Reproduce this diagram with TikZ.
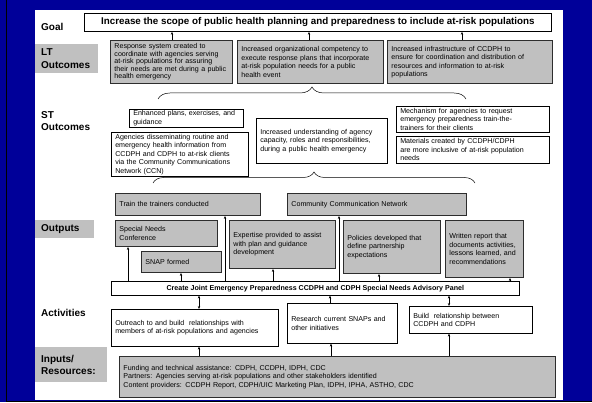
\documentclass[tikz,border=0pt]{standalone}
\usepackage{fontspec}
\setmainfont{Liberation Sans}
\usetikzlibrary{arrows.meta,decorations.pathreplacing}
\definecolor{slideblue}{RGB}{0,0,153}
\definecolor{boxgrey}{RGB}{192,192,192}
\definecolor{edgegrey}{RGB}{45,45,45}

\begin{document}
\begin{tikzpicture}[x=1pt,y=-1pt,
		txt/.style={font=\fontsize{7.1}{8.5}\selectfont, align=left, anchor=north west, inner xsep=4pt, inner ysep=1pt},
		greybox/.style={txt, draw=edgegrey, line width=0.9pt, fill=boxgrey},
		whitebox/.style={txt, draw=black, line width=0.6pt, fill=white},
		lbl/.style={font=\fontsize{10}{12.5}\selectfont\bfseries, align=left, anchor=north west, inner xsep=6pt, inner ysep=0pt},
		arr/.style={-{Stealth[length=3pt,width=2.4pt]}, line width=0.5pt},
		dbl/.style={{Stealth[length=3pt,width=2.4pt]}-{Stealth[length=3pt,width=2.4pt]}, line width=0.5pt},
		curly/.style={decorate, decoration={brace, amplitude=#1}, line width=0.5pt}]
		\useasboundingbox (0,0) rectangle (592,403);
		
		% slide frame
		\fill[slideblue] (0,0) rectangle (592,403);
		\fill[white] (35,10) rectangle (563,400);
		\fill[white] (0,402) rectangle (592,403);
		\draw[line width=0.8pt] (6,0) -- (6,401.5) -- (592,401.5);
		
		% row labels
		\node[lbl, anchor=west] (lgoal) at (35,27) {Goal};
		\node[lbl, fill=boxgrey, minimum width=63pt, minimum height=29pt, text width=51pt] (llt) at (35,44) {LT\\Outcomes};
		\node[lbl, anchor=west] (lst) at (35,121) {ST\\Outcomes};
		\node[lbl, fill=boxgrey, minimum width=59pt, minimum height=18pt, text width=47pt] (lout) at (35,220) {Outputs};
		\node[lbl, anchor=west] (lact) at (35,313) {Activities};
		\node[lbl, fill=boxgrey, minimum width=72pt, minimum height=35pt, text width=60pt] (linp) at (35,347) {Inputs/\\Resources:};
		
		% goal
		\node[whitebox, font=\fontsize{9.8}{12}\selectfont\bfseries, line width=0.8pt,
			minimum width=467pt, minimum height=18pt] (goal) at (84,13)
			{Increase the scope of public health planning and preparedness to include at-risk populations};
		
		% long term outcomes
		\node[greybox, font=\fontsize{7.1}{7.6}\selectfont, minimum width=122pt, minimum height=43pt, text width=114pt] (lt1) at (110,40)
			{Response system created to\\coordinate with agencies serving\\at-risk populations for assuring\\their needs are met during a public\\health emergency};
		\node[greybox, minimum width=146pt, minimum height=43pt, text width=138pt] (lt2) at (237,40)
			{Increased organizational competency to\\execute response plans that incorporate\\at-risk population needs for a public\\health event};
		\node[greybox, minimum width=165pt, minimum height=43pt, text width=157pt] (lt3) at (387,40)
			{Increased infrastructure of CCDPH to\\ensure for coordination and distribution of\\resources and information to at-risk\\populations};
		
		\draw[arr] (lt1.north -| 172,0) -- (goal.south -| 172,0);
		\draw[arr] (lt2.north -| 309,0) -- (goal.south -| 309,0);
		\draw[arr] (lt3.north -| 462,0) -- (goal.south -| 462,0);
		
		\draw[curly=12pt] (158,99) -- (466,99);
		
		% short term outcomes
		\node[whitebox, minimum width=114pt, minimum height=18pt, text width=106pt] (st1) at (129,109)
			{Enhanced plans, exercises, and\\guidance};
		\node[whitebox, minimum width=137pt, minimum height=44pt, text width=129pt] (st2) at (111,132)
			{Agencies disseminating routine and\\emergency health information from\\CCDPH and CDPH to at-risk clients\\via the Community Communications\\Network (CCN)};
		\node[whitebox, minimum width=131pt, minimum height=45pt, text width=123pt] (st3) at (256,118)
			{Increased understanding of agency\\capacity, roles and responsibilities,\\during a public health emergency};
		\node[whitebox, minimum width=153pt, minimum height=26pt, text width=145pt] (st4) at (396,106)
			{Mechanism for agencies to request\\emergency preparedness train-the-\\trainers for their clients};
		\node[whitebox, minimum width=153pt, minimum height=27pt, text width=145pt] (st5) at (396,136)
			{Materials created by CCDPH/CDPH\\are more inclusive of at-risk population\\needs};
		
		\draw[curly=11pt] (153,183) -- (475,183);
		
		% outputs
		\node[greybox, minimum width=145pt, minimum height=22pt, text width=137pt] (tt) at (115,193)
			{Train the trainers conducted};
		\node[greybox, minimum width=179pt, minimum height=22pt, text width=171pt] (ccn) at (287,193)
			{Community Communication Network};
		\node[greybox, minimum width=102pt, minimum height=26pt, text width=94pt] (sn) at (115,220)
			{Special Needs\\Conference};
		\node[greybox, minimum width=80pt, minimum height=21pt, text width=72pt] (snap) at (141,251)
			{SNAP formed};
		\node[greybox, minimum width=106pt, minimum height=48pt, text width=98pt] (exp) at (229,220)
			{Expertise provided to assist\\with plan and guidance\\development};
		\node[greybox, minimum width=97pt, minimum height=53pt, text width=89pt] (pol) at (343,220)
			{Policies developed that\\define partnership\\expectations};
		\node[greybox, minimum width=78pt, minimum height=57pt, text width=70pt] (rep) at (445,220)
			{Written report that\\documents activities,\\lessons learned, and\\recommendations};
		
		% advisory panel
		\node[whitebox, font=\fontsize{7.1}{8.5}\selectfont\bfseries,
			minimum width=408pt, minimum height=14pt] (panel) at (111,281)
			{Create Joint Emergency Preparedness CCDPH and CDPH Special Needs Advisory Panel};
		
		\draw[arr] (panel.north -| 128,0) -- (sn.south -| 128,0);
		\draw[arr] (panel.north -| 181,0) -- (snap.south -| 181,0);
		\draw[arr] (panel.north -| 225,0) -- (tt.south -| 225,0);
		\draw[arr] (panel.north -| 273,0) -- (exp.south -| 273,0);
		\draw[arr] (panel.north -| 339,0) -- (ccn.south -| 339,0);
		\draw[arr] (panel.north -| 379,0) -- (pol.south -| 379,0);
		\draw[arr] (panel.north -| 510,0) -- (rep.south -| 510,0);
		
		% activities
		\node[whitebox, minimum width=167pt, minimum height=37pt, text width=159pt] (outr) at (111,309)
			{Outreach to and build\ \ relationships with\\members of at-risk populations and agencies};
		\node[whitebox, minimum width=110pt, minimum height=40pt, text width=102pt] (res) at (287,303)
			{Research current SNAPs and\\other initiatives};
		\node[whitebox, minimum width=123pt, minimum height=27pt, text width=115pt] (bld) at (409,306)
			{Build\ \ relationship between\\CCDPH and CDPH};
		
		\draw[dbl] (panel.south -| 199,0) -- (outr.north -| 199,0);
		\draw[arr] (res.north -| 330,0) -- (panel.south -| 330,0);
		\draw[dbl] (panel.south -| 449,0) -- (bld.north -| 449,0);
		
		% inputs
		\node[greybox, minimum width=436pt, minimum height=41pt, text width=428pt] (inp) at (119,356)
			{Funding and technical assistance: CDPH, CCDPH, IDPH, CDC\\Partners: Agencies serving at-risk populations and other stakeholders identified\\Content providers: CCDPH Report, CDPH/UIC Marketing Plan, IDPH, IPHA, ASTHO, CDC};
		
		\draw[arr] (inp.north -| 199,0) -- (outr.south -| 199,0);
		\draw[arr] (inp.north -| 331,0) -- (res.south -| 331,0);
		\draw[arr] (inp.north -| 449,0) -- (bld.south -| 449,0);
		
	\end{tikzpicture}
\end{document}
